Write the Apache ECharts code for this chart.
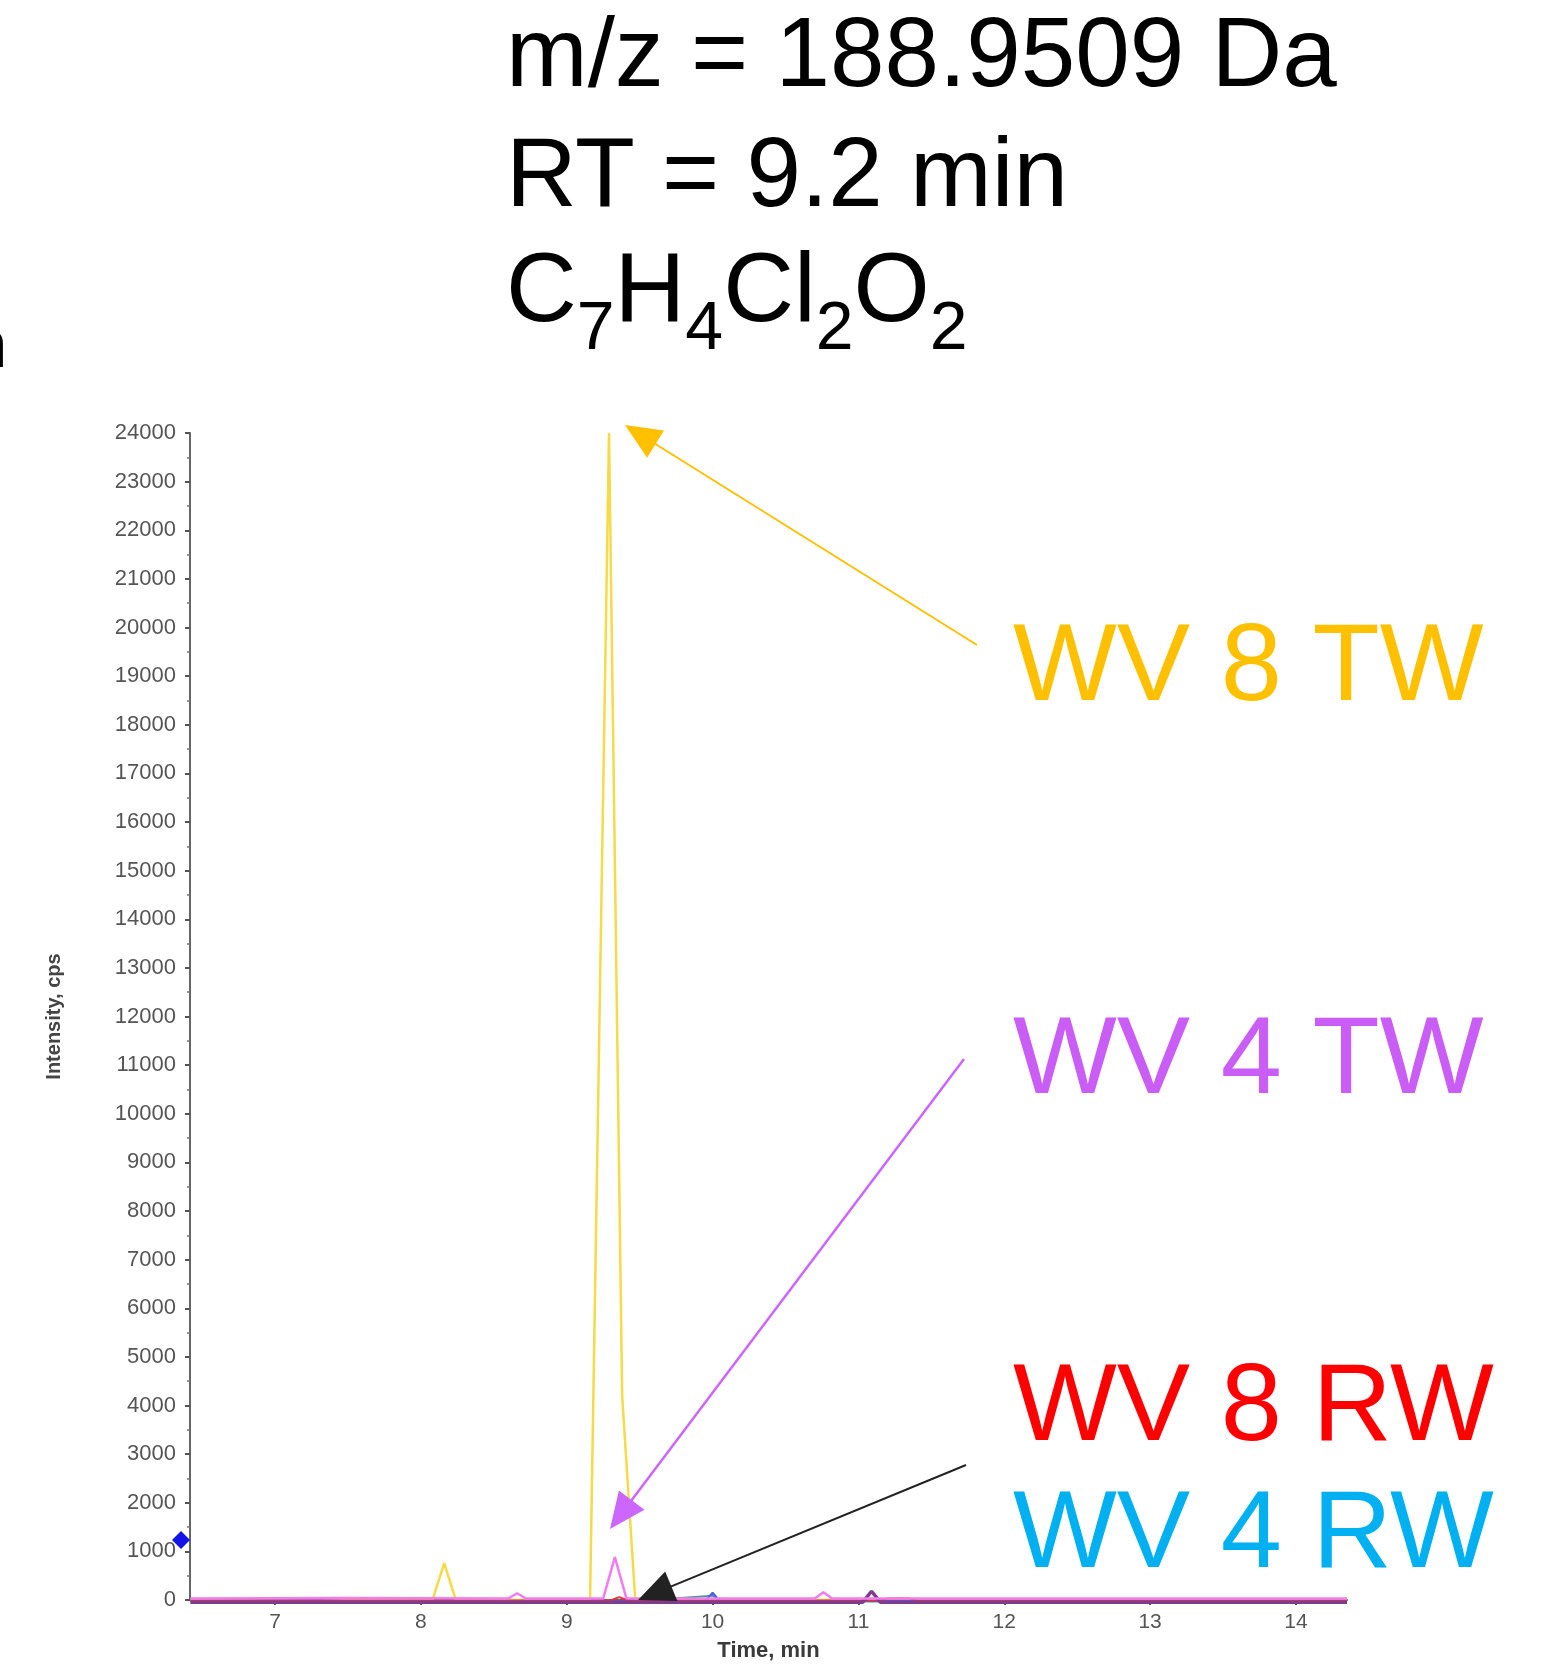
<!DOCTYPE html>
<html>
<head>
<meta charset="utf-8">
<script src="https://cdn.jsdelivr.net/npm/echarts@6/dist/echarts.min.js"></script>
<style>
html,body{margin:0;padding:0;background:#fff;}
#chart{width:1547px;height:1665px;}
</style>
</head>
<body>
<div id="chart"></div>
<script>
// ---------------- data ----------------
const titleLines = ['m/z = 188.9509 Da', 'RT = 9.2 min'];
const formulaParts = [['C',0],['7',1],['H',0],['4',1],['Cl',0],['2',1],['O',0],['2',1]];
const sampleLabels = ['WV 8 TW', 'WV 4 TW', 'WV 8 RW', 'WV 4 RW'];
const sampleColors = ['#FFC000', '#C95DF6', '#FF0000', '#00B0F0'];

const xTicks = [7, 8, 9, 10, 11, 12, 13, 14];
const xRange = [6.417, 14.35];
const yRange = [0, 24000];

// [time (min), intensity (cps)]
const ww8tw = [[6.42,0],[8.08,0],[8.16,760],[8.24,0],[9.16,0],[9.29,24000],[9.38,4200],[9.47,0],[14.35,0]];
const ww4tw = [[6.42,30],[7.5,40],[8.6,30],[8.66,140],[8.72,30],[9.25,30],[9.33,880],[9.41,30],[10.7,30],[10.76,160],[10.82,30],[14.35,30]];
const ww8rw = [[6.42,-10],[9.3,-10],[9.36,60],[9.42,-10],[11.15,-10],[11.2,30],[11.35,30],[11.4,-10],[14.35,-10]];
const ww4rw = [[6.42,-20],[7.3,0],[7.5,-20],[9.95,-20],[10.0,150],[10.05,-20],[14.35,-20]];
const traceA = [[6.42,-45],[11.03,-45],[11.09,180],[11.15,-45],[14.35,-45]];
const traceB = [[6.42,-30],[9.45,-30],[10.0,90],[10.06,-30],[14.35,-30]];

// ---------------- helpers ----------------
const FONT = '"Liberation Sans", Arial, Helvetica, sans-serif';
const DESC = 0.212; // descent ratio: bottom of text box below the baseline
const mctx = document.createElement('canvas').getContext('2d');
function textW(t, size, weight){ mctx.font = (weight||'normal') + ' ' + size + 'px ' + FONT; return mctx.measureText(t).width; }

function txt(t, x, baseline, size, color){
  return {type:'text', x:x, y:baseline + DESC * size, z:10,
          style:{text:t, font:'normal ' + size + 'px ' + FONT, fill:color, align:'left', verticalAlign:'bottom'}};
}

function arrow(x1, y1, x2, y2, color, lw, headLen, headHalf){
  const dx = x2 - x1, dy = y2 - y1, L = Math.hypot(dx, dy);
  const ux = dx / L, uy = dy / L;
  const bx = x2 - ux * headLen, by = y2 - uy * headLen;
  const px = -uy, py = ux;
  return [
    {type:'line', z:10, shape:{x1:x1, y1:y1, x2:bx + ux*2, y2:by + uy*2}, style:{stroke:color, lineWidth:lw}},
    {type:'polygon', z:10, shape:{points:[[x2,y2],[bx+px*headHalf, by+py*headHalf],[bx-px*headHalf, by-py*headHalf]]}, style:{fill:color}}
  ];
}

const graphics = [];
// title lines
const TS = 98, SS = 68, TX = 506;
const titleBase = [87, 207];
titleLines.forEach((t, i) => graphics.push(txt(t, TX, titleBase[i], TS, '#000')));
// formula with subscripts
let fx = TX;
formulaParts.forEach(([t, sub]) => {
  const size = sub ? SS : TS;
  graphics.push(txt(t, fx, sub ? 350 : 322, size, '#000'));
  fx += textW(t, size);
});
// cut-off glyph at the left edge
graphics.push(txt('n', -30, 368, 67, '#000'));

// sample labels
const LS = 110, LX = 1013;
const labelBase = [701, 1094, 1441, 1568];
sampleLabels.forEach((t, i) => graphics.push(txt(t, LX, labelBase[i], LS, sampleColors[i])));

// arrows
arrow(977, 645, 625, 425, '#FFC000', 2, 36, 16).forEach(g => graphics.push(g));
arrow(964, 1059, 610, 1529, '#CC66FF', 2.5, 36, 16).forEach(g => graphics.push(g));
arrow(966, 1465, 638, 1600, '#222222', 2, 36, 16).forEach(g => graphics.push(g));

// blue marker on the y axis
graphics.push({type:'polygon', shape:{points:[[172,1540],[181,1531],[190,1540],[181,1549]]}, style:{fill:'#1414E6'}, z:20});

// ---------------- chart ----------------
const chart = echarts.init(document.getElementById('chart'), null, {renderer:'canvas'});

function lineSeries(name, data, color, width, z){
  return {name:name, type:'line', data:data, showSymbol:false, symbol:'none', clip:false,
          lineStyle:{color:color, width:width}, itemStyle:{color:color}, z:z, animation:false};
}

chart.setOption({
  animation:false,
  backgroundColor:'#ffffff',
  grid:{left:190, right:200, top:433, bottom:65, containLabel:false, outerBoundsMode:'none'},
  xAxis:{
    type:'value', min:xRange[0], max:xRange[1],
    name:'Time, min', nameLocation:'middle', nameGap:40,
    nameTextStyle:{fontFamily:FONT, fontWeight:'bold', fontSize:22, color:'#3a3a3a'},
    axisLine:{show:true, lineStyle:{color:'#666', width:2}},
    axisTick:{show:true, length:5, lineStyle:{color:'#555', width:2}, customValues:xTicks},
    axisLabel:{fontFamily:FONT, fontSize:21, color:'#555', margin:12, customValues:xTicks, formatter:v => String(v)},
    splitLine:{show:false}
  },
  yAxis:{
    type:'value', min:yRange[0], max:yRange[1], interval:1000,
    name:'Intensity, cps', nameLocation:'middle', nameRotate:90, nameGap:126,
    nameTextStyle:{fontFamily:FONT, fontWeight:'bold', fontSize:20, color:'#444'},
    axisLine:{show:true, lineStyle:{color:'#666', width:2}},
    axisTick:{show:true, length:5, lineStyle:{color:'#555', width:2}},
    minorTick:{show:true, splitNumber:2, length:3, lineStyle:{color:'#777', width:1.5}},
    axisLabel:{fontFamily:FONT, fontSize:22, color:'#555', margin:14, formatter:v => String(v)},
    splitLine:{show:false}
  },
  series:[
    lineSeries('WV 8 TW', ww8tw, '#F6DA48', 2.5, 2),
    lineSeries('Trace B', traceB, '#3A9C9C', 2, 3),
    lineSeries('WV 4 RW', ww4rw, '#4A5CE8', 2, 4),
    lineSeries('WV 8 RW', ww8rw, '#E8303A', 2, 5),
    lineSeries('Trace A', traceA, '#7E3C8C', 3.5, 6),
    lineSeries('WV 4 TW', ww4tw, '#F07CF0', 2.5, 7)
  ],
  graphic:graphics
});
</script>
</body>
</html>
